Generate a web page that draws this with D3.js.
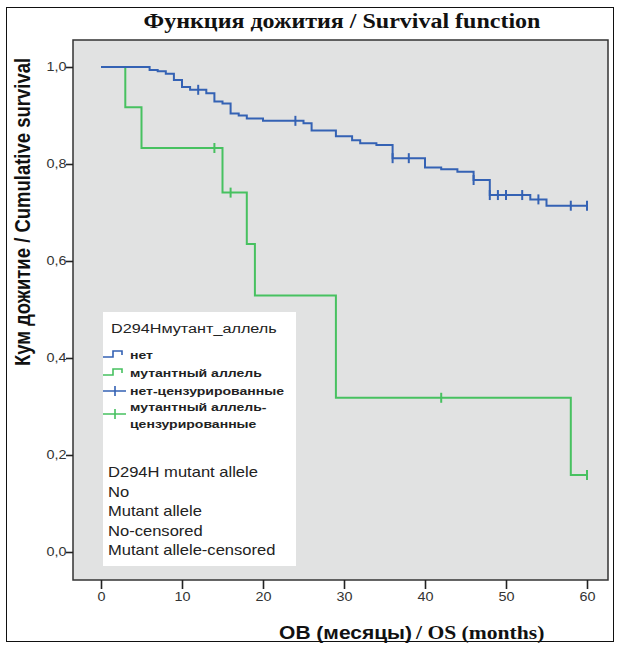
<!DOCTYPE html>
<html><head><meta charset="utf-8">
<script src="https://cdn.jsdelivr.net/npm/d3@7"></script>
<style>body{margin:0;background:#fff}svg{display:block}</style>
</head><body>
<script>
// ---- data ----
const xTicks = [0,10,20,30,40,50,60];
const yTicks = [0,0.2,0.4,0.6,0.8,1.0];
const blueTimes = [0,6,7,8,9,10,11,13,14,15,16,17,18,20,25,26,29,31,32,34,36,40,42,44,46,48,53,55,60];
const blueSurv  = [1,0.994,0.991,0.986,0.973,0.959,0.953,0.946,0.929,0.925,0.904,0.900,0.894,0.889,0.884,0.869,0.857,0.849,0.843,0.839,0.812,0.793,0.789,0.784,0.767,0.736,0.727,0.714,0.714];
const blueCensT = [12,24,36,38,46,48,49,50,52,54,58,60];
const blueCensS = [0.953,0.889,0.812,0.812,0.767,0.736,0.736,0.736,0.736,0.727,0.714,0.714];
const greenTimes = [0,3,5,15,18,19,29,58,60];
const greenSurv  = [1,0.917,0.833,0.741,0.635,0.529,0.318,0.159,0.159];
const greenCensT = [14,16,42,60];
const greenCensS = [0.833,0.741,0.318,0.159];
const legendTitle = "D294Hмутант_аллель";
const legendRu = ["нет","мутантный аллель","нет-цензурированные",["мутантный аллель-","цензурированные"]];
const legendEn = ["D294H mutant allele","No","Mutant allele","No-censored","Mutant allele-censored"];

const W=618,H=646, SX=1.2;
const blue="#3462b4", green="#47c160";
const sans="Liberation Sans, Arial, sans-serif";
const serif="Liberation Serif, Times New Roman, serif";
const svg=d3.select("body").append("svg").attr("width",W).attr("height",H);
svg.append("rect").attr("width",W).attr("height",H).attr("fill","#fff");
svg.append("rect").attr("x",6.5).attr("y",7.5).attr("width",607).attr("height",634)
  .attr("fill","none").attr("stroke","#111").attr("stroke-width",1);

const pl=73,pt=40,pr=608,pb=580;
svg.append("rect").attr("x",pl).attr("y",pt).attr("width",pr-pl).attr("height",pb-pt)
  .attr("fill","#e1e2e2").attr("stroke","#333").attr("stroke-width",1.5);

const x=d3.scaleLinear().domain([0,60]).range([101,587]);
const y=d3.scaleLinear().domain([0,1]).range([552,67]);

function stext(g,px,py,str,size,opts={}){
  const t=g.append("text").attr("transform",`translate(${px},${py}) scale(${SX},1)`)
    .attr("font-family",opts.family||sans).attr("font-size",size)
    .attr("font-weight",opts.weight||"normal").attr("fill",opts.fill||"#222")
    .attr("text-anchor",opts.anchor||"start");
  if(str!==null) t.text(str);
  return t;
}

// axes
const xa=svg.append("g").attr("transform",`translate(0,${pb})`)
  .call(d3.axisBottom(x).tickValues(xTicks).tickSize(9).tickSizeOuter(0).tickFormat(d3.format("d")));
const ya=svg.append("g").attr("transform",`translate(${pl},0)`)
  .call(d3.axisLeft(y).tickValues(yTicks).tickSize(7).tickSizeOuter(0).tickFormat(d=>d3.format(".1f")(d).replace(".",",")));
[xa,ya].forEach(g=>{g.select(".domain").remove();
  g.selectAll("line").attr("stroke","#222").attr("stroke-width",1.6);
  g.selectAll("text").attr("font-family",sans).attr("font-size",12).attr("fill","#333")
   .attr("transform",`scale(${SX},1)`);});
xa.selectAll("text").attr("y",12).attr("dy","0.71em");
ya.selectAll("text").attr("x",-5.5);

// curves
const line=d3.line().x(d=>x(d[0])).y(d=>y(d[1])).curve(d3.curveStepAfter);
function drawCurve(ts,ss,cT,cS,col){
  svg.append("path").datum(ts.map((t,i)=>[t,ss[i]])).attr("d",line)
    .attr("fill","none").attr("stroke",col).attr("stroke-width",2);
  svg.append("g").selectAll("line").data(cT.map((t,i)=>[t,cS[i]])).join("line")
    .attr("x1",d=>x(d[0])).attr("x2",d=>x(d[0]))
    .attr("y1",d=>y(d[1])-5).attr("y2",d=>y(d[1])+5)
    .attr("stroke",col).attr("stroke-width",2);
}
drawCurve(greenTimes,greenSurv,greenCensT,greenCensS,green);
drawCurve(blueTimes,blueSurv,blueCensT,blueCensS,blue);

// legend
const lg=svg.append("g");
lg.append("rect").attr("x",103).attr("y",312).attr("width",193).attr("height",254).attr("fill","#fff");
stext(lg,111,333,legendTitle,13.5);
const rowsY=[359,377,395,411];
const cols=[blue,green,blue,green];
rowsY.forEach((ry,i)=>{
  const c=cols[i];
  if(i<2){
    lg.append("path").attr("d",`M103,${ry-2}H113V${ry-8}H122V${ry-4}`)
      .attr("fill","none").attr("stroke",c).attr("stroke-width",1.6);
  } else {
    const cy = i===3 ? ry+3 : ry-4;
    lg.append("path").attr("d",`M103,${cy}H126M115,${cy-5}V${cy+5}`)
      .attr("fill","none").attr("stroke",c).attr("stroke-width",1.6);
  }
  const lab=legendRu[i];
  if(Array.isArray(lab)){
    lab.forEach((s,k)=>stext(lg,130,ry+k*17,s,11.7,{weight:"bold"}));
  } else stext(lg,130,ry,lab,11.7,{weight:"bold"});
});
legendEn.forEach((s,i)=>stext(lg,108,477+i*19.5,s,13.8));

// titles
stext(svg,342,28,"Функция дожития / Survival function",20,{family:serif,weight:"bold",anchor:"middle",fill:"#111"});
svg.append("text").attr("transform",`translate(30,212) rotate(-90) scale(1,${SX})`).attr("text-anchor","middle")
  .attr("font-family",sans).attr("font-weight","bold").attr("font-size",18.5).attr("fill","#111")
  .text("Кум дожитие / Cumulative survival");
stext(svg,412,639,"ОВ (месяцы)",17.5,{weight:"bold",anchor:"end",fill:"#111"});
stext(svg,416,639,"/ OS (months)",18,{family:serif,weight:"bold",fill:"#111"});
</script>
</body></html>
